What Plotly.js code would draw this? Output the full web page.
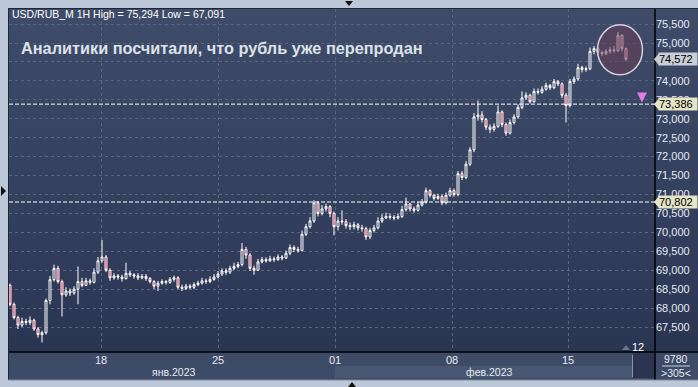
<!DOCTYPE html>
<html>
<head>
<meta charset="utf-8">
<script src="https://cdn.plot.ly/plotly-3.0.1.min.js"></script>
<style>
  html, body { margin:0; padding:0; background:#bcc8d8; width:698px; height:387px; overflow:hidden; }
  #bg { position:absolute; left:8px; top:8px; width:690px; height:344px;
        background:linear-gradient(to bottom, #3f4c69 0%, #35425f 50%, #2a3552 100%); }
  #chart { position:absolute; left:0; top:0; width:698px; height:387px; }
</style>
</head>
<body>
<div id="bg"></div>
<div id="chart"></div>
<script>
// ---- data (USD/RUB_M, 1H candles) ----
const openP = [
68.60,68.10,67.75,67.55,67.65,67.62,67.68,67.45,67.30,67.35,
68.20,68.75,69.05,68.70,68.35,68.45,68.40,68.50,68.70,68.60,
68.72,68.68,68.95,69.25,69.35,69.00,68.80,68.85,68.82,68.78,
68.92,68.88,68.85,68.80,68.84,68.78,68.70,68.58,68.66,68.70,
68.68,68.76,68.80,68.55,68.52,68.58,68.55,68.62,68.66,68.72,
68.70,68.76,68.82,68.90,68.98,68.95,69.05,69.10,69.15,69.55,
69.40,69.05,69.00,69.22,69.28,69.25,69.30,69.28,69.35,69.32,
69.45,69.60,69.55,69.52,69.95,70.15,70.30,70.78,70.50,70.62,
70.68,70.50,70.15,70.30,70.28,70.18,70.15,70.20,70.12,70.10,
69.88,70.05,70.12,70.30,70.38,70.42,70.40,70.38,70.42,70.60,
70.75,70.62,70.58,70.72,70.80,71.10,70.98,70.90,70.95,70.78,
70.98,71.10,71.00,71.55,71.45,71.80,72.18,73.05,73.10,72.98,
72.78,72.72,72.80,73.18,72.85,72.62,72.90,73.05,73.30,73.55,
73.62,73.45,73.72,73.70,73.78,73.88,73.82,73.98,73.92,73.62,
73.35,73.98,74.05,74.35,74.30,74.32,74.78,74.85,74.75,74.72,
74.78,74.82,74.80,75.20,74.85];
const highP = [
68.65,68.15,67.80,67.75,67.72,67.78,67.72,67.50,67.40,68.25,
68.85,69.15,69.12,68.75,68.55,68.52,68.58,69.10,68.80,68.80,
68.78,69.05,69.35,69.80,69.40,69.05,68.92,68.90,68.88,69.20,
68.98,68.92,68.92,68.90,68.90,68.82,68.74,68.72,68.76,68.74,
68.82,68.86,68.84,68.62,68.64,68.64,68.68,68.72,68.80,68.78,
68.84,68.90,68.98,69.05,69.05,69.12,69.20,69.22,69.72,69.62,
69.45,69.12,69.30,69.35,69.34,69.38,69.36,69.42,69.40,69.52,
69.68,69.66,69.62,70.05,70.22,70.40,70.85,70.82,70.72,70.76,
70.72,70.55,70.40,70.58,70.35,70.26,70.28,70.25,70.20,70.15,
70.12,70.20,70.40,70.48,70.52,70.50,70.46,70.50,70.70,70.92,
70.78,70.68,70.80,70.88,71.18,71.14,71.02,71.02,71.00,71.05,
71.18,71.16,71.62,71.62,71.88,72.25,73.15,73.48,73.20,73.02,
72.85,72.88,73.35,73.22,72.90,72.98,73.12,73.38,73.72,73.70,
73.66,73.80,73.80,73.86,73.95,73.92,74.05,74.02,73.96,73.68,
74.05,74.12,74.45,74.40,74.38,74.88,74.92,74.88,74.80,74.84,
74.90,74.92,75.294,75.24,74.88];
const lowP = [
68.05,67.70,67.45,67.50,67.55,67.55,67.40,67.22,67.091,67.30,
68.10,68.70,68.65,67.78,68.30,68.32,68.35,68.10,68.55,68.58,
68.62,68.65,68.90,69.20,68.95,68.72,68.75,68.75,68.70,68.75,
68.82,68.78,68.74,68.76,68.72,68.65,68.50,68.45,68.62,68.62,
68.64,68.70,68.50,68.45,68.48,68.50,68.50,68.58,68.62,68.64,
68.66,68.72,68.78,68.85,68.88,68.90,69.00,69.05,69.10,69.30,
68.98,68.88,68.98,69.18,69.20,69.22,69.22,69.25,69.26,69.30,
69.40,69.48,69.46,69.50,69.90,70.10,70.25,70.42,70.45,70.55,
70.40,69.92,70.05,70.20,70.10,70.06,70.08,70.05,70.02,69.80,
69.82,70.00,70.08,70.25,70.35,70.34,70.32,70.34,70.38,70.55,
70.55,70.52,70.55,70.68,70.76,70.92,70.84,70.86,70.72,70.74,
70.94,70.94,70.95,71.38,71.40,71.75,72.12,72.95,72.90,72.70,
72.62,72.66,72.76,72.78,72.55,72.58,72.85,73.00,73.25,73.50,
73.40,73.42,73.64,73.66,73.74,73.76,73.78,73.86,73.55,72.90,
73.30,73.92,74.00,74.22,74.24,74.28,74.70,74.68,74.66,74.68,
74.72,74.74,74.76,74.78,74.52];
const closeP = [
68.10,67.75,67.55,67.65,67.62,67.68,67.45,67.30,67.35,68.20,
68.75,69.05,68.70,68.35,68.45,68.40,68.50,68.70,68.60,68.72,
68.68,68.95,69.25,69.35,69.00,68.80,68.85,68.82,68.78,68.92,
68.88,68.85,68.80,68.84,68.78,68.70,68.58,68.66,68.70,68.68,
68.76,68.80,68.55,68.52,68.58,68.55,68.62,68.66,68.72,68.70,
68.76,68.82,68.90,68.98,68.95,69.05,69.10,69.15,69.55,69.40,
69.05,69.00,69.22,69.28,69.25,69.30,69.28,69.35,69.32,69.45,
69.60,69.55,69.52,69.95,70.15,70.30,70.78,70.50,70.62,70.68,
70.50,70.15,70.30,70.28,70.18,70.15,70.20,70.12,70.10,69.88,
70.05,70.12,70.30,70.38,70.42,70.40,70.38,70.42,70.60,70.75,
70.62,70.58,70.72,70.80,71.10,70.98,70.90,70.95,70.78,70.98,
71.10,71.00,71.55,71.45,71.80,72.18,73.05,73.10,72.98,72.78,
72.72,72.80,73.18,72.85,72.62,72.90,73.05,73.30,73.55,73.62,
73.45,73.72,73.70,73.78,73.88,73.82,73.98,73.92,73.62,73.35,
73.98,74.05,74.35,74.30,74.32,74.78,74.85,74.75,74.72,74.78,
74.82,74.80,75.20,74.85,74.572];

const priceTicks = [67.5,68.0,68.5,69.0,69.5,70.0,70.5,71.0,71.5,72.0,72.5,73.0,73.5,74.0,74.5,75.0,75.5];
const priceTickText = ['67,500','68,000','68,500','69,000','69,500','70,000','70,500','71,000','71,500',
                       '72,000','72,500','73,000','73,500','74,000','','75,000','75,500'];
const dateTickLabels = ['18', '25', '01', '08', '15'];
const dateTickIndex  = [22.75, 52, 81.25, 110.5, 139.5];
const monthLabels = ['янв.2023', 'фев.2023'];
const levelLines = [73.386, 70.802];
const lastPrice = 74.572;
const headerText = 'USD/RUB_M 1H High = 75,294 Low = 67,091';
const titleText = 'Аналитики посчитали, что рубль уже перепродан';
const barCountText = '12';
const footerTop = '9780';
const footerBottom = '>305<';

// ---- chart ----
const xIdx = openP.map((_, i) => i);
const fmt = v => v.toFixed(3).replace('.', ',');
const FONT = 'Liberation Sans, Arial, sans-serif';

const trace = {
  type: 'candlestick',
  x: xIdx, open: openP, high: highP, low: lowP, close: closeP,
  increasing: { line: { color: '#ffffff', width: 1 }, fillcolor: 'rgba(0,0,0,0)' },
  decreasing: { line: { color: '#ffffff', width: 1 }, fillcolor: '#e3143c' },
  whiskerwidth: 0,
  hoverinfo: 'skip'
};

// paper helpers (plot: x 9..655, y 9..352)
const PX = px => (px - 9) / 646;
const PY = py => (352 - py) / 343;

const shapes = [
  { type:'rect', xref:'paper', yref:'paper', x0:PX(8), x1:PX(698), y0:PY(352), y1:PY(380),
    fillcolor:'#3e4b67', line:{width:0}, layer:'below' },
  { type:'rect', xref:'paper', yref:'paper', x0:PX(335), x1:PX(633), y0:PY(366), y1:PY(378),
    fillcolor:'#4a5773', line:{width:0}, layer:'below' },
  { type:'rect', xref:'paper', yref:'paper', x0:PX(633), x1:PX(655), y0:PY(352), y1:PY(378),
    fillcolor:'#2b3551', line:{width:0}, layer:'below' },
  { type:'line', xref:'paper', yref:'paper', x0:PX(632.5), x1:PX(632.5), y0:PY(355), y1:PY(377),
    line:{color:'#8a94a8', width:1} },
  { type:'line', xref:'paper', yref:'paper', x0:PX(8), x1:PX(698), y0:PY(352), y1:PY(352),
    line:{color:'#000000', width:1.5} },
  { type:'line', xref:'paper', yref:'paper', x0:PX(655), x1:PX(655), y0:PY(8), y1:PY(380),
    line:{color:'#000000', width:1.5} },
  { type:'line', xref:'paper', yref:'paper', x0:PX(8.5), x1:PX(8.5), y0:PY(8), y1:PY(380),
    line:{color:'#1e2636', width:1} },
  { type:'line', xref:'paper', yref:'paper', x0:PX(8), x1:PX(698), y0:PY(8.5), y1:PY(8.5),
    line:{color:'#1e2636', width:1} },
  { type:'line', xref:'paper', yref:'paper', x0:PX(8), x1:PX(698), y0:PY(380), y1:PY(380),
    line:{color:'#7d889c', width:1} },
  { type:'line', xref:'paper', yref:'paper', x0:PX(662), x1:PX(690), y0:PY(366), y1:PY(366),
    line:{color:'#c8d0dc', width:1} },
  { type:'path', xref:'paper', yref:'paper',
    path:`M${PX(345)},${PY(1)} L${PX(353)},${PY(1)} L${PX(349)},${PY(6)} Z`,
    fillcolor:'#111111', line:{width:0} },
  { type:'path', xref:'paper', yref:'paper',
    path:`M${PX(1)},${PY(186)} L${PX(1)},${PY(196)} L${PX(6)},${PY(191)} Z`,
    fillcolor:'#111111', line:{width:0} },
  { type:'path', xref:'paper', yref:'paper',
    path:`M${PX(348)},${PY(387)} L${PX(356)},${PY(387)} L${PX(352)},${PY(382)} Z`,
    fillcolor:'#111111', line:{width:0} },
  { type:'path', xref:'paper', yref:'paper',
    path:`M${PX(622)},${PY(350)} L${PX(630)},${PY(350)} L${PX(626)},${PY(345)} Z`,
    fillcolor:'#6a748a', line:{width:0} }
];

levelLines.forEach(v => {
  shapes.push({ type:'line', xref:'paper', yref:'y', x0:0, x1:1, y0:v, y1:v,
    line:{color:'#ffffff', width:1, dash:'4px,2px'} });
});

shapes.push({ type:'circle', xref:'x', yref:'y', xsizemode:'pixel', ysizemode:'pixel',
  xanchor: 152.5, yanchor: 74.82, x0:-22.5, x1:22.5, y0:-25, y1:25,
  fillcolor:'rgba(105,62,88,0.55)', line:{color:'#d6d2dc', width:1.5}, layer:'above' });

const tags = [
  { v: lastPrice, bg:'#c9cdd6' },
  { v: levelLines[0], bg:'#e4e4c6' },
  { v: levelLines[1], bg:'#e4e4c6' }
];
tags.forEach(t => {
  shapes.push({ type:'path', xref:'paper', yref:'y', xsizemode:'pixel', ysizemode:'pixel',
    xanchor:1, yanchor:t.v, path:'M-1,0 L4,6 L4,-6 Z', fillcolor:t.bg, line:{width:0} });
});

const annotations = [
  { text: headerText, xref:'paper', yref:'paper', x:PX(10), y:PY(14), xanchor:'left', yanchor:'middle',
    showarrow:false, font:{family:FONT, size:10.5, color:'#ffffff'} },
  { text: '<b>' + titleText + '</b>', xref:'paper', yref:'paper', x:PX(19), y:PY(48), xanchor:'left', yanchor:'middle',
    showarrow:false, font:{family:FONT, size:16.3, color:'#dde1e8'} },
  { text: monthLabels[0], xref:'paper', yref:'paper', x:PX(173), y:PY(372), xanchor:'center', yanchor:'middle',
    showarrow:false, font:{family:FONT, size:10.5, color:'#e6eaf2'} },
  { text: monthLabels[1], xref:'paper', yref:'paper', x:PX(489), y:PY(372), xanchor:'center', yanchor:'middle',
    showarrow:false, font:{family:FONT, size:10.5, color:'#e6eaf2'} },
  { text: barCountText, xref:'paper', yref:'paper', x:PX(638), y:PY(347), xanchor:'center', yanchor:'middle',
    showarrow:false, font:{family:FONT, size:11, color:'#ffffff'} },
  { text: footerTop, xref:'paper', yref:'paper', x:PX(676), y:PY(359), xanchor:'center', yanchor:'middle',
    showarrow:false, font:{family:FONT, size:10.5, color:'#e6eaf2'} },
  { text: footerBottom, xref:'paper', yref:'paper', x:PX(676), y:PY(373), xanchor:'center', yanchor:'middle',
    showarrow:false, font:{family:FONT, size:10.5, color:'#e6eaf2'} },
  { text:'', xref:'paper', yref:'y', x:PX(642), y:73.43, ax:0, ay:-10, showarrow:true,
    arrowhead:2, arrowsize:1, arrowwidth:2, arrowcolor:'#e27be6' }
];
tags.forEach(t => {
  annotations.push({ text: fmt(t.v), xref:'paper', yref:'y', x:PX(658), y:t.v,
    xanchor:'left', yanchor:'middle', showarrow:false, bgcolor:t.bg, borderpad:0,
    width:38, align:'left', font:{family:FONT, size:11, color:'#000000'} });
});

const layout = {
  width: 698, height: 387,
  margin: { l: 9, r: 43, t: 9, b: 35, pad: 0 },
  paper_bgcolor: 'rgba(0,0,0,0)',
  plot_bgcolor: 'rgba(0,0,0,0)',
  showlegend: false,
  separators: ', ',
  font: { family: FONT, size: 11, color: '#e6eaf2' },
  xaxis: {
    type: 'linear', range: [-0.25, 161.25], fixedrange: true,
    tickmode: 'array', tickvals: dateTickIndex, ticktext: dateTickLabels,
    ticks: '', showgrid: true, gridcolor: '#58657f', griddash: '3px,3px', gridwidth: 1,
    zeroline: false, showline: false,
    rangeslider: { visible: false },
    tickfont: { family: FONT, size: 11, color: '#e6eaf2' }
  },
  yaxis: {
    side: 'right', range: [66.841, 75.898], fixedrange: true,
    tickmode: 'array', tickvals: priceTicks, ticktext: priceTickText,
    ticks: '', showgrid: true, gridcolor: '#58657f', griddash: '3px,3px', gridwidth: 1,
    zeroline: false, showline: false,
    tickfont: { family: FONT, size: 11, color: '#e6eaf2' }
  },
  shapes: shapes,
  annotations: annotations
};

Plotly.newPlot('chart', [trace], layout, { displayModeBar: false, staticPlot: true });
</script>
</body>
</html>
